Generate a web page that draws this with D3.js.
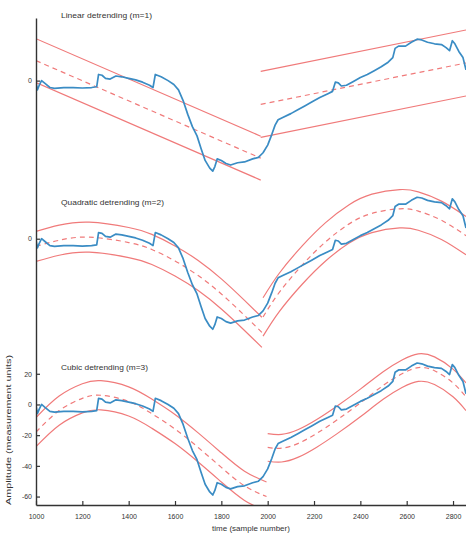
<!DOCTYPE html>
<html>
<head>
<meta charset="utf-8">
<script src="https://cdn.jsdelivr.net/npm/d3@7"></script>
<style>
  body { margin: 0; background: #fff; }
  text { font-family: "Liberation Sans", Arial, sans-serif; fill: #333; }
</style>
</head>
<body>
<script>
// Detrending example: same signal, three polynomial fits, two segments each
const width = 466, height = 536;

const xTicks = [1000, 1200, 1400, 1600, 1800, 2000, 2200, 2400, 2600, 2800];
const yTicks = [20, 0, -20, -40, -60];
const titles = ["Linear detrending (m=1)", "Quadratic detrending (m=2)", "Cubic detrending (m=3)"];
const offsets = [211, 108, 0];   // vertical shift of each panel (units)

// measured signal [sample, amplitude]
const signal = [
  [1000,-1],[1006,-6],[1014,-3],[1024,0],[1040,-2],[1060,-4.5],[1080,-5],[1120,-4.5],[1160,-4.5],
  [1200,-4.8],[1240,-4.5],[1262,-4],[1270,4],[1285,3.5],[1300,1.5],[1320,1],[1345,3],[1370,2.5],
  [1400,1.5],[1430,0.5],[1460,-1],[1490,-3],[1505,-4.5],[1515,4],[1540,2.5],[1570,0],[1595,-2.5],
  [1615,-6],[1635,-13],[1655,-22],[1675,-30],[1695,-36],[1712,-44],[1730,-52],[1750,-57],[1763,-59],
  [1772,-56],[1782,-51],[1800,-52],[1820,-54],[1840,-55],[1870,-53.5],[1900,-53],[1935,-51],[1960,-50],
  [1980,-47],[2000,-42],[2018,-35],[2032,-29],[2045,-25.5],[2065,-24],[2100,-21.5],[2130,-19],
  [2160,-16.5],[2190,-14],[2225,-11],[2260,-8.5],[2280,-7],[2292,-1],[2305,-1.5],[2318,-3.5],
  [2340,-3],[2370,-0.5],[2400,2],[2430,4],[2460,6.5],[2490,9],[2520,12],[2540,15],[2550,21],
  [2565,22.5],[2595,22.5],[2620,25],[2645,27],[2665,26.5],[2690,25],[2720,24],[2750,23.5],
  [2770,21.5],[2785,19.5],[2797,26],[2808,24],[2825,19],[2843,15],[2856,7]
];

// fitted trends per segment [sample, amplitude]
const linFitA = [[1000,13],[1970,-50.5]];
const linFitB = [[1970,-15.5],[2856,11.5]];
const quadFitA = [[1000,-5],[1100,-1],[1230,1],[1400,-2.5],[1500,-7],[1600,-14.5],[1700,-24],[1800,-36],[1900,-50],[1975,-61]];
const quadFitB = [[1980,-51],[2050,-35],[2150,-17],[2250,-2],[2350,9.5],[2450,16.5],[2570,19.5],[2650,18],[2750,12],[2856,2]];
const cubicFitA = [[1000,-18],[1100,-4],[1200,4],[1280,6],[1400,2],[1500,-6],[1600,-16],[1700,-28],[1800,-41],[1900,-53],[1995,-60]];
const cubicFitB = [[2000,-28],[2060,-28.5],[2130,-25.5],[2210,-19],[2300,-10],[2400,1],[2500,12.5],[2580,20],[2650,24],[2720,22],[2800,14],[2856,5]];
// half width of the confidence band, segment A / B
const halfBand = [[14.3, 21.5], [9.8, 12.5], [9.5, 9]];

const fits = [[linFitA, linFitB], [quadFitA, quadFitB], [cubicFitA, cubicFitB]];

const x = d3.scaleLinear().domain([1000, 2856]).range([36, 466]);
const y = d3.scaleLinear().domain([-65.5, 251.8]).range([505, 18]);

const svg = d3.select("body").append("svg")
    .attr("width", width)
    .attr("height", height);

svg.append("rect").attr("width", width).attr("height", height).attr("fill", "#fff");

svg.append("clipPath").attr("id", "plot")
  .append("rect").attr("x", 36).attr("y", 18).attr("width", 430).attr("height", 487);

const plot = svg.append("g").attr("clip-path", "url(#plot)");

fits.forEach((segs, p) => {
    const off = offsets[p];
    const line = d3.line()
        .x(d => x(d[0]))
        .y(d => y(d[1] + off))
        .curve(p === 0 ? d3.curveLinear : d3.curveNatural);

    segs.forEach((fit, s) => {
        const hw = halfBand[p][s];
        [hw, -hw].forEach(k => {
            plot.append("path")
                .attr("d", line(fit.map(d => [d[0], d[1] + k])))
                .attr("fill", "none")
                .attr("stroke", "#f07a7a")
                .attr("stroke-width", 1.2);
        });
        plot.append("path")
            .attr("d", line(fit))
            .attr("fill", "none")
            .attr("stroke", "#f07a7a")
            .attr("stroke-width", 1.2)
            .attr("stroke-dasharray", "5,4");
    });

    plot.append("path")
        .attr("d", d3.line().x(d => x(d[0])).y(d => y(d[1] + off))(signal))
        .attr("fill", "none")
        .attr("stroke", "#3a8cc4")
        .attr("stroke-width", 1.7)
        .attr("stroke-linejoin", "round");

    svg.append("text")
        .attr("x", 61)
        .attr("y", [18, 205, 370][p])
        .attr("font-size", "8px")
        .attr("textLength", [91, 103, 87][p])
        .attr("lengthAdjust", "spacingAndGlyphs")
        .text(titles[p]);
});

// axes
const xAxis = svg.append("g")
    .attr("transform", "translate(0,505)")
    .call(d3.axisBottom(x).tickValues(xTicks).tickFormat(d3.format("d"))
        .tickSize(-4).tickSizeOuter(0).tickPadding(9));

const yAxis = svg.append("g")
    .attr("transform", "translate(36,0)")
    .call(d3.axisLeft(y)
        .tickValues(yTicks.concat(offsets.slice(0, 2)))
        .tickFormat(d => d > 100 ? "0" : d)
        .tickSize(-4).tickSizeOuter(0).tickPadding(4));

[xAxis, yAxis].forEach(g => {
    g.select(".domain").attr("stroke", "#333").attr("stroke-width", 1.4);
    g.selectAll(".tick line").attr("stroke", "#333").attr("stroke-width", 1.2);
    g.selectAll(".tick text").attr("font-size", "7px").attr("fill", "#555")
        .attr("font-family", "'Liberation Sans', Arial, sans-serif");
});

svg.append("text")
    .attr("x", 251)
    .attr("y", 531)
    .attr("text-anchor", "middle")
    .attr("font-size", "8px")
    .text("time (sample number)");

svg.append("text")
    .attr("transform", "translate(11,430) rotate(-90)")
    .attr("text-anchor", "middle")
    .attr("font-size", "8px")
    .attr("textLength", 150)
    .attr("lengthAdjust", "spacingAndGlyphs")
    .text("Amplitude (measurement units)");
</script>
</body>
</html>
